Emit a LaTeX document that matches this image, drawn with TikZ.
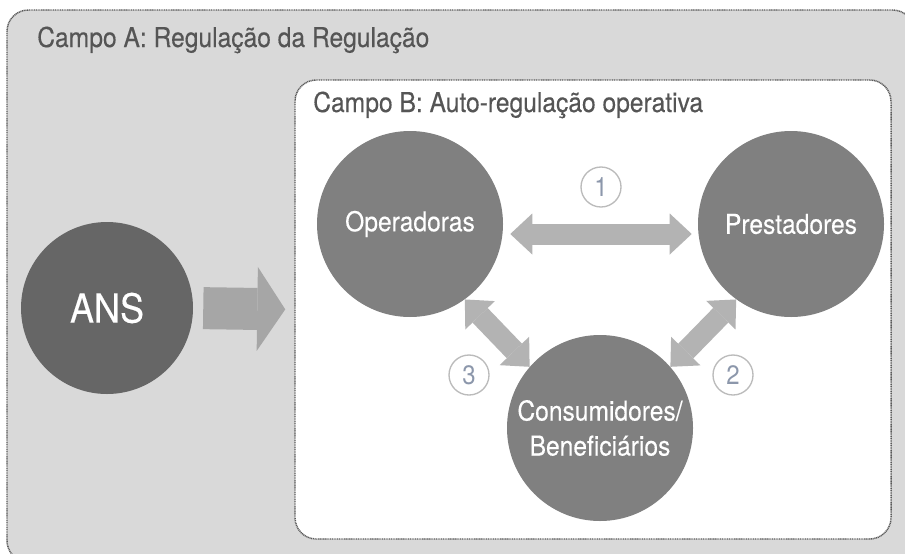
\documentclass[tikz,border=0pt]{standalone}
\usepackage{fontspec}
\setmainfont{TeX Gyre Heros}[FakeStretch=0.9,FakeBold=0.3]
\newfontfamily\numfont{TeX Gyre Heros}[FakeStretch=0.9]
\usetikzlibrary{arrows.meta,calc}

\definecolor{fieldA}{HTML}{D9D9D9}
\definecolor{borderGray}{HTML}{5A5A5A}
\definecolor{titleGray}{HTML}{555555}
\definecolor{ansGray}{HTML}{666666}
\definecolor{agentGray}{HTML}{808080}
\definecolor{ansArrow}{HTML}{A6A6A6}
\definecolor{linkArrow}{HTML}{B3B3B3}
\definecolor{lblRing}{HTML}{BBBBBB}
\definecolor{lblNum}{HTML}{8C97AB}

\tikzset{
  fieldbox/.style={draw=borderGray, line width=1.1pt, dash pattern=on 0.8pt off 0.5pt, rounded corners=16pt},
  agent/.style={circle, fill=agentGray, text=white, inner sep=0pt, minimum size=139.5pt, align=center,
    font=\fontsize{20.5}{26.25}\selectfont},
  fieldtitle/.style={anchor=base west, inner sep=0pt, text=titleGray, font=\fontsize{20.5}{20.5}\selectfont},
  numlbl/.style={circle, draw=lblRing, line width=1pt, inner sep=0pt, minimum size=30pt, text=lblNum,
    font=\numfont\fontsize{20}{20}\selectfont},
  fatarrow/.style={ansArrow, line width=31.5pt, -{Triangle[length=21pt,width=63pt,line width=0pt]}},
  linkarrow/.style={linkArrow, line width=15.75pt,
    {Triangle[length=16.5pt,width=30.75pt,line width=0pt]}-{Triangle[length=16.5pt,width=30.75pt,line width=0pt]}}
}

\begin{document}
\begin{tikzpicture}[x=0.75pt,y=0.75pt,yscale=-1,xscale=1]
        \useasboundingbox (0,0) rectangle (905,553);

        % Campo A
        \draw[fieldbox, fill=fieldA] (7,10) rectangle (914,562);
        \node[fieldtitle] (titleA) at (37,47) {Campo A: Regulação da Regulação};

        % Campo B
        \node[fieldbox, fill=white, minimum width=447pt, minimum height=344.25pt] (campoB) at (593,309.5) {};
        \node[fieldtitle] (titleB) at (313,112) {Campo B: Auto-regulação operativa};

        % Circles
        \node[agent, fill=ansGray, minimum size=129pt, font=\fontsize{30}{30}\selectfont] (ans) at (107,308) {ANS};
        \node[agent] (oper) at (410,224) {Operadoras};
        \node[agent] (prest) at (791,224) {Prestadores};
        \node[agent] (cons) at (600,428) {Consumidores/\\Beneficiários};

        % Arrows
        \draw[fatarrow, shorten <=7.5pt, shorten >=6.75pt] (ans.east) -- (campoB.west);
        \draw[linkarrow] ($(oper.east)+(7,10)$) -- ($(prest.west)+(-6,10)$);
        \draw[linkarrow] (oper.-54) -- (cons.139);
        \draw[linkarrow] (prest.-126) -- (cons.41);

        % Numbers
        \node[numlbl] (n1) at (601,187) {1};
        \node[numlbl] (n2) at (733,375) {2};
        \node[numlbl] (n3) at (469,375) {3};

        \end{tikzpicture}
\end{document}
